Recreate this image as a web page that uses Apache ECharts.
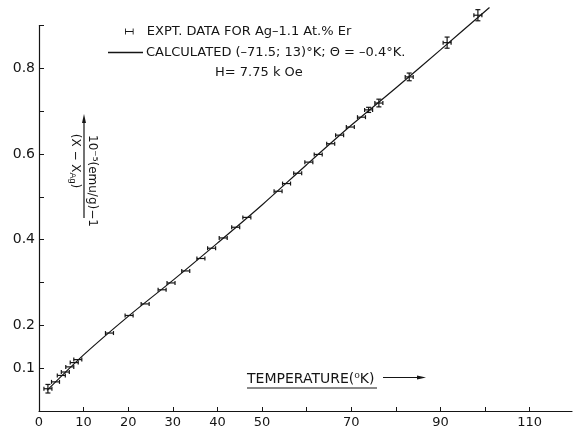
<!DOCTYPE html>
<html>
<head>
<meta charset="utf-8">
<script src="https://cdn.jsdelivr.net/npm/echarts@6/dist/echarts.min.js"></script>
<style>
  html, body { margin: 0; padding: 0; background: #fff; }
  #chart { width: 573px; height: 429px; }
</style>
</head>
<body>
<div id="chart"></div>
<script>
// experimental points, (X - X_Ag)^-1 in 10^5 (emu/g)
const tempK = [2.0, 3.7, 5.0, 5.9, 6.9, 7.9, 8.7, 15.8, 20.2, 23.8, 27.6, 29.6, 32.9, 36.3, 38.7, 41.3, 44.1, 46.6,
  53.6, 55.5, 58.0, 60.5, 62.6, 65.4, 67.4, 69.8, 72.3, 73.9, 76.2, 83.0, 91.5, 98.4]
const invChi = [0.052, 0.068, 0.083, 0.091, 0.103, 0.113, 0.120, 0.182, 0.223, 0.250, 0.283, 0.299, 0.327, 0.356, 0.380, 0.404, 0.429, 0.452,
  0.513, 0.531, 0.555, 0.581, 0.599, 0.624, 0.644, 0.663, 0.686, 0.703, 0.719, 0.780, 0.860, 0.924]
const invChiErr = [0.010, 0, 0, 0, 0, 0, 0, 0, 0, 0, 0, 0, 0, 0, 0, 0, 0, 0,
  0, 0, 0, 0, 0, 0, 0, 0, 0, 0.006, 0.009, 0.009, 0.013, 0.013]

// calculated curve
const calcT = [1.8, 10, 20, 30, 40, 50, 60, 70, 80, 90, 101]
const calcInvChi = [0.048, 0.131, 0.221, 0.305, 0.392, 0.481, 0.575, 0.667, 0.754, 0.843, 0.942]

const xTicks = [0, 10, 20, 30, 40, 50, 60, 70, 80, 90, 100, 110]
const xLabels = [0, 10, 20, 30, 40, 50, 70, 90, 110]
const yTicks = [0.1, 0.2, 0.3, 0.4, 0.5, 0.6, 0.7, 0.8, 0.9]
const yLabels = [0.1, 0.2, 0.4, 0.6, 0.8]

const exptName = 'EXPT. DATA FOR Ag\u20131.1 At.% Er'
const calcName = 'CALCULATED (\u201371.5; 13)\u00b0K; \u0398 = \u20130.4\u00b0K.'

const ink = '#151515'
const font = 'DejaVu Sans'

const chart = echarts.init(document.getElementById('chart'))

function renderPoint(params, api) {
  const x = api.value(0)
  const y = api.value(1)
  const e = api.value(2)
  const p = api.coord([x, y])
  const st = { stroke: ink, lineWidth: 1.2 }
  const children = [
    { type: 'line', shape: { x1: p[0] - 4, y1: p[1], x2: p[0] + 4, y2: p[1] }, style: st },
    { type: 'line', shape: { x1: p[0] - 4, y1: p[1] - 2, x2: p[0] - 4, y2: p[1] + 2 }, style: st },
    { type: 'line', shape: { x1: p[0] + 4, y1: p[1] - 2, x2: p[0] + 4, y2: p[1] + 2 }, style: st },
  ]
  if (e > 0) {
    const lo = api.coord([x, y - e])
    const hi = api.coord([x, y + e])
    children.push(
      { type: 'line', shape: { x1: lo[0], y1: lo[1], x2: hi[0], y2: hi[1] }, style: st },
      { type: 'line', shape: { x1: lo[0] - 2.5, y1: lo[1], x2: lo[0] + 2.5, y2: lo[1] }, style: st },
      { type: 'line', shape: { x1: hi[0] - 2.5, y1: hi[1], x2: hi[0] + 2.5, y2: hi[1] }, style: st },
    )
  }
  return { type: 'group', children }
}

chart.setOption({
  animation: false,
  backgroundColor: '#fff',
  textStyle: { fontFamily: font, color: ink },
  grid: { left: 39, right: 1, top: 25.5, bottom: 16.5 },
  legend: [
    {
      data: [{ name: exptName, icon: 'path://M0,0h1v7h-1z M0,3h10v1h-10z M9,0h1v7h-1z', itemStyle: { color: ink } }],
      left: 125, top: 25, padding: 0,
      itemWidth: 9, itemHeight: 6,
      selectedMode: false,
      textStyle: { fontSize: 13, fontFamily: font, color: ink, padding: [0, 0, 0, 8] },
    },
    {
      data: [{ name: calcName, icon: 'rect', itemStyle: { color: ink } }],
      left: 108, top: 46, padding: 0,
      itemWidth: 35, itemHeight: 1.3,
      selectedMode: false,
      textStyle: { fontSize: 13, fontFamily: font, color: ink, padding: [0, 0, 0, -2] },
    },
  ],
  xAxis: {
    type: 'value',
    min: 0,
    max: 119.5,
    splitLine: { show: false },
    axisLine: { lineStyle: { color: ink, width: 1.2 } },
    axisTick: { inside: true, length: 4, customValues: xTicks, lineStyle: { color: ink } },
    axisLabel: { customValues: xLabels, fontSize: 13, color: ink, margin: 5, fontFamily: font },
  },
  yAxis: {
    type: 'value',
    min: 0,
    max: 0.9,
    splitLine: { show: false },
    axisLine: { show: true, lineStyle: { color: ink, width: 1.2 } },
    axisTick: { show: true, inside: true, length: 5, customValues: yTicks, lineStyle: { color: ink } },
    axisLabel: {
      customValues: yLabels, fontSize: 14, color: ink, margin: 4, fontFamily: font,
      formatter: (v) => v.toFixed(1),
    },
  },
  series: [
    {
      name: calcName,
      type: 'line',
      data: calcT.map((t, i) => [t, calcInvChi[i]]),
      smooth: 0.3,
      showSymbol: false,
      symbol: 'none',
      clip: false,
      lineStyle: { color: ink, width: 1.2 },
      itemStyle: { color: ink },
      z: 2,
    },
    {
      name: exptName,
      type: 'custom',
      data: tempK.map((t, i) => [t, invChi[i], invChiErr[i]]),
      encode: { x: 0, y: 1 },
      renderItem: renderPoint,
      clip: false,
      itemStyle: { color: ink },
      z: 3,
    },
  ],
  graphic: [
    {
      type: 'text', left: 215, top: 66,
      style: { text: 'H= 7.75 k Oe', font: '13px "DejaVu Sans"', fill: ink },
    },
    // x axis title, underlined, with arrow
    {
      type: 'text', left: 247, top: 372,
      style: { text: 'TEMPERATURE(\u2070K)', font: '14px "DejaVu Sans"', fill: ink },
    },
    { type: 'line', shape: { x1: 247, y1: 388, x2: 377, y2: 388 }, style: { stroke: ink, lineWidth: 1.2 } },
    { type: 'line', shape: { x1: 383, y1: 377.5, x2: 420, y2: 377.5 }, style: { stroke: ink, lineWidth: 1.2 } },
    { type: 'polygon', shape: { points: [[426, 377.5], [417, 375.5], [417, 379.5]] }, style: { fill: ink } },
    // y axis title, rotated to read downward
    {
      type: 'group',
      x: 84, y: 167,
      rotation: -Math.PI / 2,
      children: [
        { type: 'line', shape: { x1: -46, y1: 0, x2: 51, y2: 0 }, style: { stroke: ink, lineWidth: 1.2 } },
        { type: 'polygon', shape: { points: [[-53, 0], [-44, -2], [-44, 2]] }, style: { fill: ink } },
        {
          type: 'text', x: 14, y: -2,
          style: {
            text: '10\u207b\u2075(emu/g)\u22121',
            font: '12px "DejaVu Sans"', fill: ink, align: 'center', verticalAlign: 'bottom',
          },
        },
        {
          type: 'text', x: -6, y: 2,
          style: {
            text: '(X \u2212 X{sub|Ag})',
            font: '12px "DejaVu Sans"', fill: ink, align: 'center', verticalAlign: 'top',
            rich: { sub: { fontSize: 9, verticalAlign: 'bottom', padding: [5, 0, 0, 0] } },
          },
        },
      ],
    },
  ],
})

window.addEventListener('resize', () => chart.resize())
</script>
</body>
</html>
